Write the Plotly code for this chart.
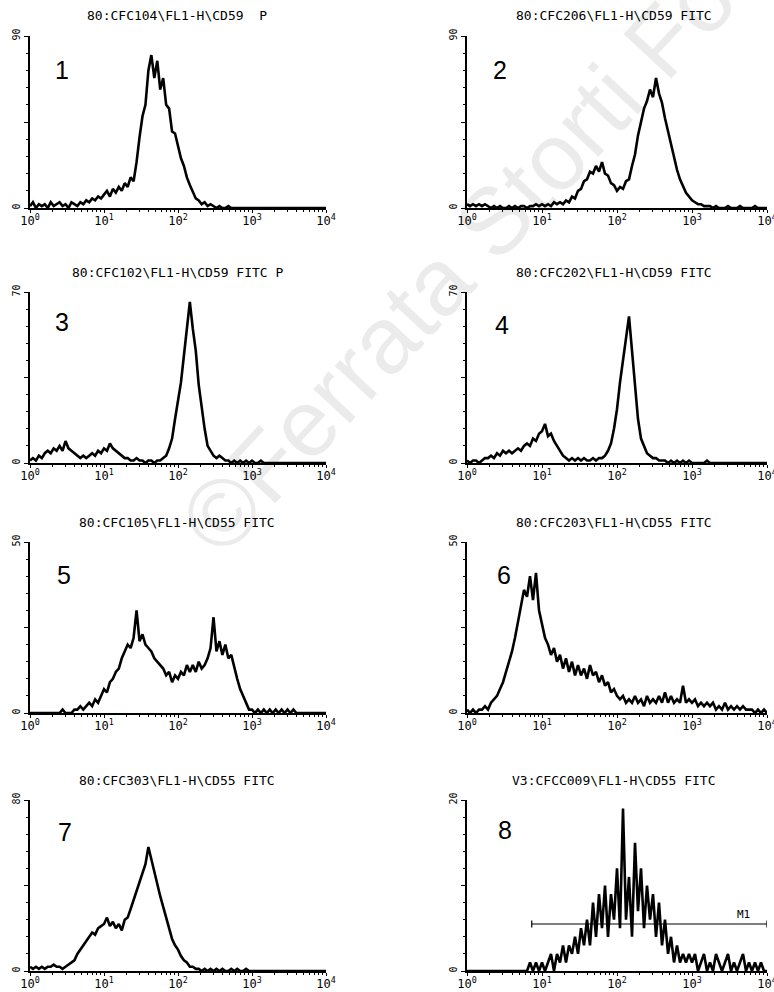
import plotly.graph_objects as go

# ---------------- data ----------------
# log10 channel grid (bins of the histograms)
LOG_BINS = [round(k * 0.04, 2) for k in range(101)]

TITLES = [
    "80:CFC104\\FL1-H\\CD59\u00a0\u00a0P",
    "80:CFC206\\FL1-H\\CD59 FITC",
    "80:CFC102\\FL1-H\\CD59 FITC P",
    "80:CFC202\\FL1-H\\CD59 FITC",
    "80:CFC105\\FL1-H\\CD55 FITC",
    "80:CFC203\\FL1-H\\CD55 FITC",
    "80:CFC303\\FL1-H\\CD55 FITC",
    "V3:CFCC009\\FL1-H\\CD55 FITC",
]
PANEL_LABELS = ["1", "2", "3", "4", "5", "6", "7", "8"]
Y_MAX = [90, 90, 70, 70, 50, 50, 80, 20]

counts_1 = [1, 3, 0, 2, 1, 2, 0, 3, 1, 2, 3, 1, 2, 0, 3, 2, 1, 3, 2, 4, 3, 5, 4, 6, 5,
            7, 9, 6, 10, 8, 11, 9, 13, 11, 16, 14, 24, 37, 48, 54, 72, 80, 68, 77, 62, 68, 54, 52, 40, 39,
            32, 26, 22, 16, 12, 8, 5, 4, 2, 3, 1, 2, 1, 0, 1, 0, 0, 1, 0, 0, 0, 0, 0, 0, 0,
            0, 0, 0, 0, 0, 0, 0, 0, 0, 0, 0, 0, 0, 0, 0, 0, 0, 0, 0, 0, 0, 0, 0, 0, 0,
            0]
counts_2 = [2, 1, 2, 1, 2, 1, 2, 1, 0, 1, 0, 1, 0, 0, 1, 0, 1, 0, 1, 1, 0, 1, 1, 2, 1,
            2, 1, 2, 1, 3, 2, 3, 2, 4, 3, 6, 5, 9, 10, 14, 15, 19, 18, 22, 19, 24, 18, 17, 13, 12,
            9, 11, 10, 14, 15, 22, 28, 38, 46, 52, 56, 62, 58, 68, 60, 55, 47, 40, 33, 26, 20, 15, 11, 8, 6,
            4, 3, 2, 2, 1, 1, 1, 0, 1, 0, 0, 0, 1, 0, 0, 0, 1, 0, 0, 0, 0, 1, 0, 0, 0,
            0]
counts_3 = [1, 2, 1, 3, 2, 4, 5, 4, 6, 5, 7, 5, 9, 6, 5, 4, 3, 2, 3, 2, 3, 4, 3, 5, 4,
            6, 5, 8, 6, 5, 4, 3, 2, 2, 1, 1, 2, 1, 1, 0, 1, 1, 0, 1, 1, 2, 3, 6, 10, 18,
            25, 33, 44, 56, 66, 55, 46, 32, 22, 14, 7, 5, 3, 2, 3, 2, 1, 1, 0, 1, 0, 1, 0, 1, 0,
            1, 0, 0, 1, 0, 0, 0, 0, 0, 0, 0, 0, 0, 0, 0, 0, 0, 0, 0, 0, 0, 0, 0, 0, 0,
            0]
counts_4 = [1, 0, 1, 1, 0, 1, 2, 2, 3, 2, 4, 3, 5, 4, 5, 4, 5, 6, 5, 7, 8, 7, 10, 9, 12,
            13, 16, 11, 12, 9, 7, 5, 3, 2, 1, 2, 1, 2, 1, 2, 1, 1, 2, 1, 2, 2, 3, 5, 8, 14,
            22, 33, 42, 50, 60, 46, 32, 18, 10, 7, 4, 3, 2, 2, 1, 1, 1, 0, 1, 0, 1, 0, 1, 0, 1,
            0, 0, 0, 0, 0, 1, 0, 0, 0, 0, 0, 0, 0, 0, 0, 0, 0, 0, 0, 0, 0, 0, 0, 0, 0,
            0]
counts_5 = [0, 0, 0, 0, 0, 0, 0, 0, 0, 0, 0, 1, 0, 0, 0, 1, 1, 2, 1, 2, 3, 2, 4, 3, 5,
            7, 6, 9, 10, 12, 13, 16, 18, 20, 19, 22, 30, 21, 23, 20, 19, 18, 16, 15, 14, 13, 11, 12, 9, 11,
            10, 12, 11, 14, 12, 14, 12, 15, 13, 14, 16, 19, 28, 18, 21, 17, 20, 16, 17, 13, 10, 7, 5, 3, 1,
            1, 0, 1, 0, 1, 0, 1, 0, 1, 0, 1, 0, 1, 0, 1, 0, 0, 0, 0, 0, 0, 0, 0, 0, 0,
            0]
counts_6 = [1, 0, 1, 0, 1, 1, 2, 1, 3, 4, 5, 7, 9, 12, 15, 18, 22, 27, 31, 36, 34, 40, 33, 41, 30,
            26, 22, 20, 17, 19, 15, 17, 13, 16, 12, 15, 11, 14, 11, 13, 10, 14, 11, 12, 9, 11, 8, 9, 6, 7,
            5, 4, 5, 3, 4, 3, 5, 3, 4, 2, 5, 3, 4, 3, 5, 3, 6, 3, 5, 3, 4, 3, 8, 3, 4,
            3, 4, 2, 3, 2, 3, 2, 3, 1, 2, 1, 3, 1, 2, 1, 2, 1, 2, 1, 1, 1, 0, 1, 0, 1,
            0]
counts_7 = [2, 1, 2, 1, 2, 1, 2, 2, 3, 2, 2, 1, 2, 3, 4, 5, 8, 10, 12, 14, 16, 18, 17, 20, 21,
            22, 25, 21, 23, 20, 22, 19, 24, 25, 29, 33, 37, 41, 45, 50, 58, 52, 47, 40, 35, 30, 25, 19, 15, 12,
            10, 7, 5, 4, 2, 2, 1, 1, 0, 1, 0, 1, 0, 1, 0, 1, 0, 0, 1, 0, 1, 0, 0, 1, 0,
            0, 0, 0, 0, 0, 0, 0, 0, 0, 0, 0, 0, 0, 0, 0, 0, 0, 0, 0, 0, 0, 0, 0, 0, 0,
            0]
counts_8 = [0, 0, 0, 0, 0, 0, 0, 0, 0, 0, 0, 0, 0, 0, 0, 0, 0, 0, 0, 0, 0, 1, 0, 1, 0,
            1, 0, 1, 2, 0, 2, 1, 3, 1, 3, 2, 4, 2, 5, 3, 6, 3, 8, 4, 9, 5, 10, 4, 9, 6,
            12, 5, 19, 6, 11, 4, 15, 7, 12, 5, 10, 6, 9, 4, 8, 3, 6, 2, 4, 1, 3, 1, 2, 1, 2,
            1, 2, 0, 1, 2, 0, 1, 0, 2, 1, 0, 1, 2, 0, 1, 0, 1, 2, 0, 1, 0, 1, 0, 1, 0,
            0]
COUNTS = [counts_1, counts_2, counts_3, counts_4, counts_5, counts_6, counts_7, counts_8]

# marker M1 in panel 8
M1_RANGE = [7.3, 10000]
M1_LEVEL = 5.5

X_TICKVALS = [1, 10, 100, 1000, 10000]
X_TICKTEXT = ["10<sup>0</sup>", "10<sup>1</sup>", "10<sup>2</sup>", "10<sup>3</sup>", "10<sup>4</sup>"]

# ---------------- layout geometry (pixels) ----------------
W, H = 774, 992
COLS = [(30, 326), (467, 767)]
ROWS = [(36, 208), (292, 463), (542, 713), (800, 971)]
TITLE_Y = [16, 272, 522, 780]
TITLE_X = [177, 614]
NUM_POS = [(62, 70), (500, 70), (62, 322), (502, 325), (64, 575), (504, 575), (65, 832), (505, 830)]


def px(x, y):
    return x / W, 1 - y / H


MONO = "DejaVu Sans Mono"
fig = go.Figure()
minor_x = [m * 10 ** d for d in range(4) for m in range(2, 10)]

for i in range(8):
    r, c = divmod(i, 2)
    x0, x1 = COLS[c]
    y0, y1 = ROWS[r]
    ax = "" if i == 0 else str(i + 1)
    xs = [10 ** v for v in LOG_BINS]
    fig.add_trace(go.Scatter(
        x=xs, y=COUNTS[i], mode="lines",
        line=dict(color="black", width=2.6),
        xaxis="x" + ax, yaxis="y" + ax, showlegend=False, hoverinfo="skip"))
    ymax = Y_MAX[i]
    fig.update_layout(**{
        "xaxis" + ax: dict(
            domain=[x0 / W, x1 / W], anchor="y" + ax, type="log", range=[0, 4], automargin=False,
            showgrid=False, zeroline=False, showline=True, linecolor="black", linewidth=1.5,
            tickvals=X_TICKVALS, ticktext=X_TICKTEXT, ticks="outside", ticklen=3,
            tickcolor="black", tickwidth=1.3, ticklabeloverflow="allow", ticklabelstandoff=-2,
            tickfont=dict(family=MONO, size=12, color="black"),
            minor=dict(tickvals=minor_x, ticks="outside", ticklen=2, tickcolor="black", tickwidth=1),
            fixedrange=True),
        "yaxis" + ax: dict(
            domain=[1 - y1 / H, 1 - y0 / H], anchor="x" + ax, range=[0, ymax], automargin=False,
            showgrid=False, zeroline=False, showline=True, linecolor="black", linewidth=1.5,
            tickvals=[0, ymax / 2, ymax], ticktext=["0", " ", str(ymax)],
            ticks="outside", ticklen=4, tickcolor="black", tickwidth=1.2, tickangle=-90,
            tickfont=dict(family=MONO, size=10, color="black"),
            minor=dict(dtick=ymax / 10, ticks="outside", ticklen=2, tickcolor="black", tickwidth=1),
            fixedrange=True),
    })
    tx, ty = px(TITLE_X[c], TITLE_Y[r])
    fig.add_annotation(x=tx, y=ty, xref="paper", yref="paper", text=TITLES[i], showarrow=False,
                       font=dict(family=MONO, size=13, color="black"), xanchor="center", yanchor="middle")
    nx, ny = px(*NUM_POS[i])
    fig.add_annotation(x=nx, y=ny, xref="paper", yref="paper", text=PANEL_LABELS[i], showarrow=False,
                       font=dict(family="Liberation Sans", size=25, color="black"),
                       xanchor="center", yanchor="middle")

# M1 marker (panel 8)
fig.add_shape(type="line", xref="x8", yref="y8", x0=M1_RANGE[0], x1=M1_RANGE[1], y0=M1_LEVEL, y1=M1_LEVEL,
              line=dict(color="black", width=1.2))
for xv in M1_RANGE:
    fig.add_shape(type="line", xref="x8", yref="y8", x0=xv, x1=xv, y0=M1_LEVEL - 0.4, y1=M1_LEVEL + 0.4,
                  line=dict(color="black", width=1.2))
fig.add_annotation(x=3.69, y=M1_LEVEL, xref="x8", yref="y8", text="M1", showarrow=False,
                   font=dict(family=MONO, size=11, color="black"), yanchor="bottom", yshift=1)

# watermark
wx, wy = px(582, 126)
fig.add_annotation(x=wx, y=wy, xref="paper", yref="paper", text="©Ferrata Storti Foundation",
                   showarrow=False, textangle=-47,
                   font=dict(family="Liberation Sans", size=95, color="rgba(0,0,0,0.08)"),
                   xanchor="center", yanchor="middle")

fig.update_layout(template="none", width=W, height=H, margin=dict(l=0, r=0, t=0, b=0, pad=0),
                  paper_bgcolor="white", plot_bgcolor="white")

fig.write_html("out.html", config={"displayModeBar": False},
               post_script="document.body.style.margin='0px';")
